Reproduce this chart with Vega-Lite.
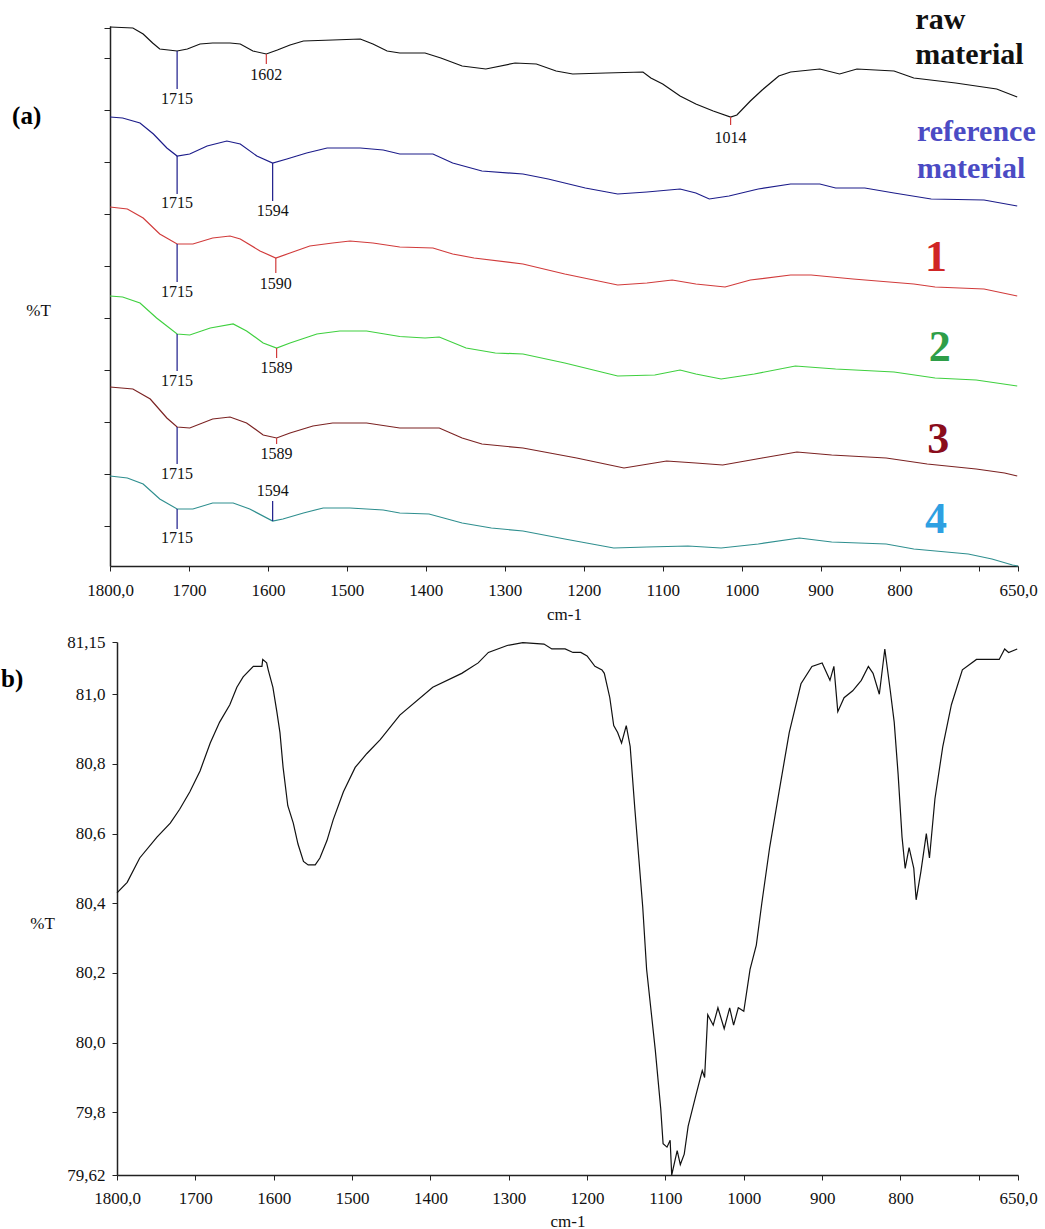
{
  "$schema": "https://vega.github.io/schema/vega-lite/v6.json",
  "background": "white",
  "padding": {"left": 1, "top": 4, "right": 0, "bottom": 0},
  "autosize": {"type": "pad"},
  "bounds": "flush",
  "spacing": 76,
  "config": {
    "view": {"stroke": null},
    "font": "Liberation Serif",
    "axis": {
      "labelFont": "Liberation Serif", "titleFont": "Liberation Serif",
      "labelFontSize": 17, "titleFontSize": 17, "titleFontWeight": "normal",
      "labelColor": "#111", "titleColor": "#111",
      "domainColor": "#222", "tickColor": "#222", "domainWidth": 1.5, "tickWidth": 1,
      "grid": false, "labelFlush": false, "labelOverlap": false
    }
  },
  "datasets": {
    "specA": [
      {"s":"raw","wn":1800,"v":53.9},{"s":"raw","wn":1771,"v":53.8},{"s":"raw","wn":1758,"v":53.2},{"s":"raw","wn":1746,"v":52.3},{"s":"raw","wn":1737,"v":51.7},{"s":"raw","wn":1715,"v":51.5},{"s":"raw","wn":1702,"v":51.7},{"s":"raw","wn":1686,"v":52.2},{"s":"raw","wn":1670,"v":52.3},{"s":"raw","wn":1648,"v":52.3},{"s":"raw","wn":1635,"v":52.2},{"s":"raw","wn":1619,"v":51.5},{"s":"raw","wn":1602,"v":51.2},{"s":"raw","wn":1588,"v":51.6},{"s":"raw","wn":1572,"v":52.1},{"s":"raw","wn":1555,"v":52.5},{"s":"raw","wn":1518,"v":52.6},{"s":"raw","wn":1483,"v":52.7},{"s":"raw","wn":1467,"v":52.2},{"s":"raw","wn":1449,"v":51.5},{"s":"raw","wn":1433,"v":51.3},{"s":"raw","wn":1401,"v":51.3},{"s":"raw","wn":1381,"v":50.8},{"s":"raw","wn":1354,"v":50.0},{"s":"raw","wn":1324,"v":49.7},{"s":"raw","wn":1287,"v":50.3},{"s":"raw","wn":1260,"v":50.2},{"s":"raw","wn":1235,"v":49.5},{"s":"raw","wn":1214,"v":49.2},{"s":"raw","wn":1172,"v":49.3},{"s":"raw","wn":1125,"v":49.4},{"s":"raw","wn":1115,"v":48.8},{"s":"raw","wn":1100,"v":48.2},{"s":"raw","wn":1078,"v":47.0},{"s":"raw","wn":1058,"v":46.2},{"s":"raw","wn":1036,"v":45.5},{"s":"raw","wn":1014,"v":44.9},{"s":"raw","wn":1006,"v":45.1},{"s":"raw","wn":989,"v":46.5},{"s":"raw","wn":974,"v":47.6},{"s":"raw","wn":953,"v":49.0},{"s":"raw","wn":938,"v":49.4},{"s":"raw","wn":901,"v":49.7},{"s":"raw","wn":876,"v":49.2},{"s":"raw","wn":854,"v":49.7},{"s":"raw","wn":807,"v":49.5},{"s":"raw","wn":782,"v":48.8},{"s":"raw","wn":729,"v":48.3},{"s":"raw","wn":677,"v":47.7},{"s":"raw","wn":651,"v":46.9},
      {"s":"ref","wn":1800,"v":44.9},{"s":"ref","wn":1784,"v":44.8},{"s":"ref","wn":1762,"v":44.3},{"s":"ref","wn":1745,"v":43.2},{"s":"ref","wn":1728,"v":41.8},{"s":"ref","wn":1715,"v":41.0},{"s":"ref","wn":1699,"v":41.2},{"s":"ref","wn":1677,"v":42.0},{"s":"ref","wn":1652,"v":42.5},{"s":"ref","wn":1635,"v":42.2},{"s":"ref","wn":1614,"v":41.0},{"s":"ref","wn":1594,"v":40.3},{"s":"ref","wn":1576,"v":40.7},{"s":"ref","wn":1551,"v":41.3},{"s":"ref","wn":1525,"v":41.8},{"s":"ref","wn":1483,"v":41.8},{"s":"ref","wn":1454,"v":41.6},{"s":"ref","wn":1433,"v":41.2},{"s":"ref","wn":1391,"v":41.2},{"s":"ref","wn":1366,"v":40.3},{"s":"ref","wn":1329,"v":39.5},{"s":"ref","wn":1277,"v":39.2},{"s":"ref","wn":1245,"v":38.7},{"s":"ref","wn":1198,"v":37.8},{"s":"ref","wn":1157,"v":37.2},{"s":"ref","wn":1120,"v":37.4},{"s":"ref","wn":1078,"v":37.7},{"s":"ref","wn":1058,"v":37.3},{"s":"ref","wn":1041,"v":36.7},{"s":"ref","wn":1016,"v":37.0},{"s":"ref","wn":979,"v":37.7},{"s":"ref","wn":938,"v":38.2},{"s":"ref","wn":901,"v":38.2},{"s":"ref","wn":881,"v":37.8},{"s":"ref","wn":844,"v":37.8},{"s":"ref","wn":807,"v":37.3},{"s":"ref","wn":760,"v":36.7},{"s":"ref","wn":693,"v":36.6},{"s":"ref","wn":651,"v":36.0},
      {"s":"s1","wn":1800,"v":35.9},{"s":"s1","wn":1778,"v":35.7},{"s":"s1","wn":1758,"v":34.8},{"s":"s1","wn":1737,"v":33.2},{"s":"s1","wn":1715,"v":32.2},{"s":"s1","wn":1695,"v":32.2},{"s":"s1","wn":1670,"v":32.8},{"s":"s1","wn":1648,"v":33.0},{"s":"s1","wn":1635,"v":32.7},{"s":"s1","wn":1610,"v":31.5},{"s":"s1","wn":1590,"v":30.8},{"s":"s1","wn":1572,"v":31.3},{"s":"s1","wn":1547,"v":32.0},{"s":"s1","wn":1518,"v":32.3},{"s":"s1","wn":1496,"v":32.5},{"s":"s1","wn":1467,"v":32.3},{"s":"s1","wn":1433,"v":31.9},{"s":"s1","wn":1391,"v":31.8},{"s":"s1","wn":1366,"v":31.2},{"s":"s1","wn":1339,"v":30.8},{"s":"s1","wn":1277,"v":30.2},{"s":"s1","wn":1224,"v":29.2},{"s":"s1","wn":1157,"v":28.1},{"s":"s1","wn":1120,"v":28.3},{"s":"s1","wn":1088,"v":28.6},{"s":"s1","wn":1058,"v":28.2},{"s":"s1","wn":1021,"v":27.9},{"s":"s1","wn":989,"v":28.6},{"s":"s1","wn":938,"v":29.1},{"s":"s1","wn":912,"v":29.1},{"s":"s1","wn":859,"v":28.7},{"s":"s1","wn":782,"v":28.2},{"s":"s1","wn":755,"v":27.9},{"s":"s1","wn":693,"v":27.7},{"s":"s1","wn":651,"v":27.0},
      {"s":"s2","wn":1800,"v":27.0},{"s":"s2","wn":1784,"v":26.9},{"s":"s2","wn":1762,"v":26.3},{"s":"s2","wn":1741,"v":24.8},{"s":"s2","wn":1715,"v":23.2},{"s":"s2","wn":1699,"v":23.1},{"s":"s2","wn":1673,"v":23.8},{"s":"s2","wn":1644,"v":24.2},{"s":"s2","wn":1627,"v":23.5},{"s":"s2","wn":1606,"v":22.3},{"s":"s2","wn":1589,"v":21.8},{"s":"s2","wn":1572,"v":22.3},{"s":"s2","wn":1538,"v":23.2},{"s":"s2","wn":1509,"v":23.5},{"s":"s2","wn":1475,"v":23.5},{"s":"s2","wn":1433,"v":22.95},{"s":"s2","wn":1401,"v":22.8},{"s":"s2","wn":1383,"v":22.9},{"s":"s2","wn":1349,"v":21.8},{"s":"s2","wn":1312,"v":21.3},{"s":"s2","wn":1277,"v":21.2},{"s":"s2","wn":1224,"v":20.3},{"s":"s2","wn":1157,"v":19.0},{"s":"s2","wn":1110,"v":19.1},{"s":"s2","wn":1078,"v":19.6},{"s":"s2","wn":1058,"v":19.2},{"s":"s2","wn":1026,"v":18.7},{"s":"s2","wn":984,"v":19.2},{"s":"s2","wn":932,"v":20.0},{"s":"s2","wn":881,"v":19.7},{"s":"s2","wn":807,"v":19.4},{"s":"s2","wn":755,"v":18.8},{"s":"s2","wn":703,"v":18.6},{"s":"s2","wn":651,"v":18.0},
      {"s":"s3","wn":1800,"v":17.9},{"s":"s3","wn":1771,"v":17.7},{"s":"s3","wn":1749,"v":16.7},{"s":"s3","wn":1728,"v":14.8},{"s":"s3","wn":1715,"v":13.9},{"s":"s3","wn":1699,"v":13.8},{"s":"s3","wn":1670,"v":14.7},{"s":"s3","wn":1648,"v":14.9},{"s":"s3","wn":1627,"v":14.3},{"s":"s3","wn":1606,"v":13.1},{"s":"s3","wn":1589,"v":12.8},{"s":"s3","wn":1572,"v":13.3},{"s":"s3","wn":1543,"v":14.0},{"s":"s3","wn":1518,"v":14.3},{"s":"s3","wn":1475,"v":14.3},{"s":"s3","wn":1433,"v":13.8},{"s":"s3","wn":1383,"v":13.8},{"s":"s3","wn":1354,"v":12.8},{"s":"s3","wn":1329,"v":12.2},{"s":"s3","wn":1277,"v":11.8},{"s":"s3","wn":1209,"v":10.8},{"s":"s3","wn":1149,"v":9.8},{"s":"s3","wn":1095,"v":10.5},{"s":"s3","wn":1058,"v":10.3},{"s":"s3","wn":1024,"v":10.1},{"s":"s3","wn":974,"v":10.8},{"s":"s3","wn":930,"v":11.4},{"s":"s3","wn":886,"v":11.1},{"s":"s3","wn":817,"v":10.8},{"s":"s3","wn":765,"v":10.2},{"s":"s3","wn":703,"v":9.7},{"s":"s3","wn":667,"v":9.3},{"s":"s3","wn":651,"v":9.0},
      {"s":"s4","wn":1800,"v":9.0},{"s":"s4","wn":1778,"v":8.8},{"s":"s4","wn":1758,"v":8.2},{"s":"s4","wn":1737,"v":6.7},{"s":"s4","wn":1715,"v":5.7},{"s":"s4","wn":1695,"v":5.7},{"s":"s4","wn":1670,"v":6.3},{"s":"s4","wn":1644,"v":6.3},{"s":"s4","wn":1623,"v":5.7},{"s":"s4","wn":1594,"v":4.5},{"s":"s4","wn":1581,"v":4.7},{"s":"s4","wn":1555,"v":5.3},{"s":"s4","wn":1530,"v":5.8},{"s":"s4","wn":1496,"v":5.8},{"s":"s4","wn":1454,"v":5.6},{"s":"s4","wn":1433,"v":5.3},{"s":"s4","wn":1396,"v":5.2},{"s":"s4","wn":1354,"v":4.3},{"s":"s4","wn":1317,"v":3.8},{"s":"s4","wn":1277,"v":3.5},{"s":"s4","wn":1224,"v":2.7},{"s":"s4","wn":1162,"v":1.8},{"s":"s4","wn":1120,"v":1.9},{"s":"s4","wn":1068,"v":2.0},{"s":"s4","wn":1026,"v":1.8},{"s":"s4","wn":979,"v":2.2},{"s":"s4","wn":927,"v":2.8},{"s":"s4","wn":886,"v":2.4},{"s":"s4","wn":817,"v":2.2},{"s":"s4","wn":782,"v":1.7},{"s":"s4","wn":713,"v":1.2},{"s":"s4","wn":683,"v":0.7},{"s":"s4","wn":657,"v":0.1},{"s":"s4","wn":650,"v":0.0}
    ],
    "peaks": [
      {"wn":1715,"y1":51.5,"y2":47.7,"ly":46.7,"t":"1715","g":"A"},
      {"wn":1602,"y1":51.2,"y2":50.2,"ly":49.1,"t":"1602","g":"B"},
      {"wn":1014,"y1":44.9,"y2":44.1,"ly":42.8,"t":"1014","g":"B"},
      {"wn":1715,"y1":41.0,"y2":37.2,"ly":36.3,"t":"1715","g":"A"},
      {"wn":1594,"y1":40.3,"y2":36.5,"ly":35.5,"t":"1594","g":"A"},
      {"wn":1715,"y1":32.2,"y2":28.4,"ly":27.4,"t":"1715","g":"A"},
      {"wn":1590,"y1":30.8,"y2":29.3,"ly":28.2,"t":"1590","g":"B"},
      {"wn":1715,"y1":23.2,"y2":19.5,"ly":18.5,"t":"1715","g":"A"},
      {"wn":1589,"y1":21.8,"y2":20.8,"ly":19.8,"t":"1589","g":"B"},
      {"wn":1715,"y1":13.9,"y2":10.2,"ly":9.2,"t":"1715","g":"A"},
      {"wn":1589,"y1":12.8,"y2":12.2,"ly":11.2,"t":"1589","g":"B"},
      {"wn":1715,"y1":5.7,"y2":3.7,"ly":2.8,"t":"1715","g":"A"},
      {"wn":1594,"y1":4.5,"y2":6.5,"ly":7.5,"t":"1594","g":"A"}
    ],
    "words": [
      {"t":"raw","wn":780,"v":53.7,"k":"raw"},
      {"t":"material","wn":780,"v":50.2,"k":"raw"},
      {"t":"reference","wn":778,"v":42.5,"k":"ref"},
      {"t":"material","wn":778,"v":38.8,"k":"ref"}
    ],
    "digits": [
      {"t":"1","wn":754,"v":29.5,"k":"s1"},
      {"t":"2","wn":749,"v":20.5,"k":"s2"},
      {"t":"3","wn":751,"v":11.3,"k":"s3"},
      {"t":"4","wn":754,"v":3.3,"k":"s4"}
    ],
    "tagA": [{"t":"(a)","wn":1924,"v":45.0}],
    "tagB": [{"t":"b)","wn":1948,"v":81.044}],
    "specB": [
      {"wn":1800,"v":80.43},{"wn":1787,"v":80.46},{"wn":1771,"v":80.53},{"wn":1749,"v":80.59},{"wn":1732,"v":80.63},{"wn":1720,"v":80.67},{"wn":1707,"v":80.72},{"wn":1694,"v":80.78},{"wn":1681,"v":80.86},{"wn":1669,"v":80.92},{"wn":1656,"v":80.97},{"wn":1647,"v":81.02},{"wn":1639,"v":81.05},{"wn":1626,"v":81.08},{"wn":1615,"v":81.08},{"wn":1614,"v":81.10},{"wn":1609,"v":81.09},{"wn":1607,"v":81.07},{"wn":1601,"v":81.02},{"wn":1596,"v":80.95},{"wn":1592,"v":80.89},{"wn":1588,"v":80.79},{"wn":1582,"v":80.68},{"wn":1575,"v":80.63},{"wn":1569,"v":80.57},{"wn":1562,"v":80.52},{"wn":1556,"v":80.51},{"wn":1547,"v":80.51},{"wn":1541,"v":80.53},{"wn":1532,"v":80.58},{"wn":1524,"v":80.64},{"wn":1511,"v":80.72},{"wn":1496,"v":80.79},{"wn":1481,"v":80.83},{"wn":1464,"v":80.87},{"wn":1439,"v":80.94},{"wn":1397,"v":81.02},{"wn":1360,"v":81.06},{"wn":1339,"v":81.09},{"wn":1326,"v":81.12},{"wn":1302,"v":81.14},{"wn":1282,"v":81.148},{"wn":1255,"v":81.144},{"wn":1245,"v":81.13},{"wn":1228,"v":81.13},{"wn":1218,"v":81.12},{"wn":1208,"v":81.12},{"wn":1200,"v":81.11},{"wn":1190,"v":81.08},{"wn":1181,"v":81.07},{"wn":1178,"v":81.06},{"wn":1171,"v":80.99},{"wn":1166,"v":80.91},{"wn":1161,"v":80.89},{"wn":1156,"v":80.86},{"wn":1150,"v":80.91},{"wn":1145,"v":80.85},{"wn":1139,"v":80.67},{"wn":1134,"v":80.53},{"wn":1129,"v":80.39},{"wn":1124,"v":80.21},{"wn":1113,"v":79.98},{"wn":1106,"v":79.81},{"wn":1103,"v":79.71},{"wn":1098,"v":79.70},{"wn":1094,"v":79.72},{"wn":1092,"v":79.62},{"wn":1085,"v":79.69},{"wn":1081,"v":79.65},{"wn":1076,"v":79.68},{"wn":1071,"v":79.76},{"wn":1061,"v":79.85},{"wn":1053,"v":79.92},{"wn":1050,"v":79.90},{"wn":1046,"v":80.08},{"wn":1039,"v":80.05},{"wn":1033,"v":80.10},{"wn":1025,"v":80.04},{"wn":1018,"v":80.10},{"wn":1013,"v":80.05},{"wn":1007,"v":80.10},{"wn":1000,"v":80.09},{"wn":992,"v":80.21},{"wn":984,"v":80.28},{"wn":977,"v":80.40},{"wn":967,"v":80.56},{"wn":955,"v":80.72},{"wn":942,"v":80.89},{"wn":927,"v":81.03},{"wn":913,"v":81.08},{"wn":900,"v":81.09},{"wn":890,"v":81.04},{"wn":885,"v":81.08},{"wn":880,"v":80.95},{"wn":872,"v":80.99},{"wn":861,"v":81.01},{"wn":850,"v":81.04},{"wn":841,"v":81.08},{"wn":835,"v":81.06},{"wn":827,"v":81.00},{"wn":820,"v":81.13},{"wn":813,"v":81.01},{"wn":808,"v":80.92},{"wn":803,"v":80.77},{"wn":798,"v":80.59},{"wn":794,"v":80.50},{"wn":789,"v":80.56},{"wn":783,"v":80.50},{"wn":780,"v":80.41},{"wn":774,"v":80.49},{"wn":767,"v":80.60},{"wn":763,"v":80.53},{"wn":756,"v":80.70},{"wn":746,"v":80.85},{"wn":735,"v":80.97},{"wn":721,"v":81.07},{"wn":703,"v":81.10},{"wn":698,"v":81.10},{"wn":691,"v":81.10},{"wn":674,"v":81.10},{"wn":667,"v":81.13},{"wn":662,"v":81.12},{"wn":651,"v":81.13}
    ]
  },
  "vconcat": [
    {
      "width": 908,
      "height": 540,
      "resolve": {"scale": {"color": "independent"}},
      "encoding": {
        "x": {
          "field": "wn", "type": "quantitative",
          "scale": {"domain": [1800, 650], "nice": false, "zero": false},
          "axis": {
            "values": [1800, 1700, 1600, 1500, 1400, 1300, 1200, 1100, 1000, 900, 800, 700, 650],
            "labelExpr": "datum.value == 1800 ? '1800,0' : datum.value == 650 ? '650,0' : datum.value == 700 ? '' : format(datum.value, 'd')",
            "labelFont": "Liberation Serif",
            "tickSize": 5, "labelPadding": 11,
            "title": "cm-1", "titleY": 53, "titleBaseline": "alphabetic"
          }
        },
        "y": {
          "field": "v", "type": "quantitative",
          "scale": {"domain": [0, 54], "nice": false, "zero": false},
          "axis": {
            "values": [4, 9.2, 14.4, 19.6, 24.8, 30, 35.2, 40.4, 45.6, 50.8, 53.8],
            "labels": false, "tickSize": 6,
            "title": "%T", "titleAngle": 0, "titleX": -72, "titleY": 284,
            "titleAlign": "center", "titleBaseline": "middle"
          }
        }
      },
      "layer": [
        {
          "data": {"name": "specA"},
          "mark": {"type": "line", "strokeWidth": 1.2},
          "encoding": {
            "color": {
              "field": "s", "type": "nominal", "legend": null,
              "scale": {"domain": ["raw", "ref", "s1", "s2", "s3", "s4"], "range": ["#111111", "#1c1c8a", "#d13b3b", "#3fd03f", "#7b2222", "#2f8f8f"]}
            }
          }
        },
        {
          "data": {"name": "peaks"},
          "mark": {"type": "rule", "strokeWidth": 1.2},
          "encoding": {
            "y": {"field": "y1", "type": "quantitative"},
            "y2": {"field": "y2"},
            "color": {
              "field": "g", "type": "nominal", "legend": null,
              "scale": {"domain": ["A", "B"], "range": ["#1c1c8a", "#d13b3b"]}
            }
          }
        },
        {
          "data": {"name": "peaks"},
          "mark": {"type": "text", "fontSize": 16, "font": "Liberation Serif", "color": "#111", "baseline": "middle", "align": "center"},
          "encoding": {
            "y": {"field": "ly", "type": "quantitative"},
            "text": {"field": "t"}
          }
        },
        {
          "data": {"name": "words"},
          "mark": {"type": "text", "fontSize": 30, "fontWeight": "bold", "font": "Liberation Serif", "align": "left", "baseline": "alphabetic"},
          "encoding": {
            "text": {"field": "t"},
            "color": {
              "field": "k", "type": "nominal", "legend": null,
              "scale": {"domain": ["raw", "ref"], "range": ["#111111", "#4b4bc4"]}
            }
          }
        },
        {
          "data": {"name": "digits"},
          "mark": {"type": "text", "fontSize": 44, "fontWeight": "bold", "font": "Liberation Serif", "align": "center", "baseline": "alphabetic"},
          "encoding": {
            "text": {"field": "t"},
            "color": {
              "field": "k", "type": "nominal", "legend": null,
              "scale": {"domain": ["s1", "s2", "s3", "s4"], "range": ["#d02525", "#2e9e48", "#8a0c1c", "#2ea0e2"]}
            }
          }
        },
        {
          "data": {"name": "tagA"},
          "mark": {"type": "text", "fontSize": 25, "fontWeight": "bold", "font": "Liberation Serif", "align": "left", "baseline": "middle", "color": "#000"},
          "encoding": {"text": {"field": "t"}}
        }
      ]
    },
    {
      "width": 908,
      "height": 533,
      "encoding": {
        "x": {
          "field": "wn", "type": "quantitative",
          "scale": {"domain": [1800, 650], "range": [7, 908], "nice": false, "zero": false},
          "axis": {
            "values": [1800, 1700, 1600, 1500, 1400, 1300, 1200, 1100, 1000, 900, 800, 700, 650],
            "labelExpr": "datum.value == 1800 ? '1800,0' : datum.value == 650 ? '650,0' : datum.value == 700 ? '' : format(datum.value, 'd')",
            "labelFont": "Liberation Serif",
            "tickSize": 5, "labelPadding": 10,
            "title": "cm-1", "titleY": 51, "titleBaseline": "alphabetic"
          }
        },
        "y": {
          "field": "v", "type": "quantitative",
          "scale": {"domain": [79.62, 81.15], "nice": false, "zero": false},
          "axis": {
            "values": [79.62, 79.8, 80, 80.2, 80.4, 80.6, 80.8, 81, 81.15],
            "labelExpr": "datum.value == 81.15 ? '81,15' : datum.value == 79.62 ? '79,62' : replace(format(datum.value, '.1f'), '.', ',')",
            "labelFont": "Liberation Serif",
            "offset": -7, "tickSize": 5, "labelPadding": 7,
            "title": "%T", "titleAngle": 0, "titleX": -75, "titleY": 281,
            "titleAlign": "center", "titleBaseline": "middle"
          }
        }
      },
      "layer": [
        {
          "data": {"name": "specB"},
          "mark": {"type": "line", "strokeWidth": 1.2, "color": "#111"}
        },
        {
          "data": {"name": "tagB"},
          "mark": {"type": "text", "fontSize": 25, "fontWeight": "bold", "font": "Liberation Serif", "align": "left", "baseline": "middle", "color": "#000"},
          "encoding": {"text": {"field": "t"}}
        }
      ]
    }
  ]
}
